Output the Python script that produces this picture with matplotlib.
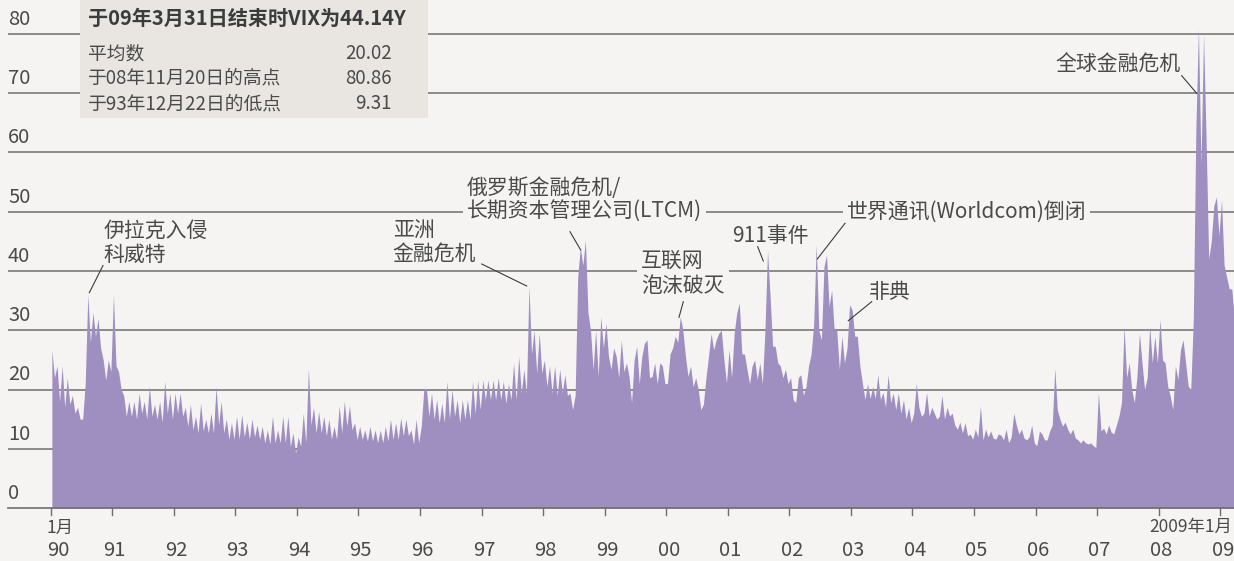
import matplotlib
matplotlib.use("Agg")
import matplotlib.pyplot as plt
from matplotlib.patches import Rectangle
import numpy as np

plt.rcParams['font.family'] = ['Noto Sans CJK SC', 'DejaVu Sans']

# VIX, two readings per month (in time order)
v1990 = [26.7, 22, 24, 18, 24, 17, 22, 17.5, 19, 16, 17, 15, 15, 21, 36, 28, 33, 29, 32, 27, 25, 21.6, 25, 23]
v1991 = [36, 24, 23, 20, 19, 15.5, 18, 15.5, 18, 15, 19.4, 16, 18, 15, 20.5, 15.5, 17.5, 15, 18, 14.5, 21.4, 16, 19.4, 15]
v1992 = [19.4, 16, 19.4, 15.5, 17, 13.8, 17.5, 13.2, 15.5, 12.7, 17.7, 13, 15, 12.7, 16, 12.7, 20.5, 14, 18, 12.7, 15, 11.6, 14.4, 11.6]
v1993 = [15.5, 11.6, 15.8, 12, 14.5, 11.6, 15, 12, 14, 11.6, 13.8, 11, 13.2, 10.8, 15.5, 11, 13.2, 11, 15.5, 11, 15.5, 10.4, 12.7, 9.3]
v1994 = [12, 10.4, 16, 11, 23.6, 14, 17, 12.7, 16.3, 12.7, 15.5, 12.2, 15, 11.6, 13.8, 11.6, 17.3, 12.7, 18, 13.8, 17.3, 13.2, 14.4, 11.6]
v1995 = [13.8, 11.6, 13.2, 11.3, 13.8, 11.3, 13.2, 11, 13.2, 11, 13.8, 11.3, 15, 11.6, 14.4, 11.6, 15.2, 12.2, 15, 12.2, 13.2, 10.8, 15, 11]
v1996 = [13.8, 20, 20.2, 15.5, 19.4, 15, 18.3, 14.4, 17.7, 14.4, 21.4, 15, 20, 15.5, 18.3, 14.4, 18.3, 15, 18.3, 15, 21.4, 16, 21.6, 16.6]
v1997 = [21.6, 18.3, 21.6, 18.3, 21.6, 18.3, 22, 18.3, 21.4, 17.7, 21, 18.3, 24.5, 18.3, 25.6, 19.4, 23.4, 19.4, 37.4, 26, 30, 22.8, 29.5, 22.8]
v1998 = [25, 20.5, 24, 19.4, 24, 19, 23.4, 19.5, 22.5, 19, 19.4, 16.6, 19, 39, 44, 41, 45.2, 33, 30, 23.4, 30, 22.2, 32.3, 27]
v1999 = [31.2, 25.6, 23.4, 27, 25.6, 22, 28.4, 23, 24.5, 22.2, 17.8, 25, 27.3, 21, 25.6, 27.8, 28.4, 22, 22.2, 24.5, 21, 24.5, 24, 21]
v2000 = [21, 26, 27, 29, 28, 32.3, 30, 25.6, 22.2, 24, 20.5, 22, 20, 16.6, 17.5, 22, 25.6, 29.5, 26.7, 28.4, 29.5, 30, 25, 21.1]
v2001 = [26.7, 22, 29.5, 32.9, 34.6, 26, 26, 23.4, 21, 24, 25, 21.7, 24.5, 21, 30, 43.5, 35.7, 27.3, 27.3, 24.5, 24, 22, 23.4, 21]
v2002 = [22, 18.3, 17.8, 22, 22.5, 19, 20.5, 24, 26, 31, 44.6, 30, 28.4, 40.7, 42.7, 34, 36.8, 30, 30, 23.4, 29, 24.5, 27, 34.3]
v2003 = [33.4, 29, 29, 24, 21, 18.3, 21, 18.5, 20.5, 18.5, 22.5, 18.3, 19.5, 17, 22.5, 17.8, 19.4, 16.6, 19.4, 16, 18.3, 15, 17, 14.4]
v2004 = [16, 21, 17, 15.5, 16, 19.5, 15.5, 17, 16, 15, 15.5, 19, 15, 17, 15.5, 16, 14, 13.3, 14.5, 12.7, 14.4, 12.2, 12.5, 11.6]
v2005 = [13.3, 12, 17.2, 11.5, 13.3, 12, 13, 11.8, 11.6, 12.5, 12.3, 11.5, 13.3, 11, 12, 16, 14, 12.5, 13.3, 11.8, 11.5, 12, 14, 11]
v2006 = [10.5, 13, 12.5, 11.5, 11.5, 13, 14, 23.6, 16.5, 15, 13.8, 14.5, 13.3, 12.5, 13.3, 11.8, 11.5, 11, 11.5, 11, 10.8, 11, 10.5, 10.2]
v2007 = [19.5, 13, 13.5, 12.5, 14, 12.8, 12.5, 14, 15.5, 17.8, 30.7, 22, 24.5, 20, 17.8, 22, 29.5, 24.5, 20, 22, 30.7, 24.5, 29, 24.5]
v2008 = [31.8, 25, 24.5, 20.6, 18.9, 16.6, 24, 21.7, 26.7, 28.4, 24.5, 20.6, 20, 31.8, 64, 80.9, 58, 80, 62, 42, 45, 51, 52.5, 46]
v2009 = [52, 41, 39, 37, 37, 32]

years = list(range(1990, 2010))
yearly = [v1990, v1991, v1992, v1993, v1994, v1995, v1996, v1997, v1998, v1999,
          v2000, v2001, v2002, v2003, v2004, v2005, v2006, v2007, v2008, v2009]
year_labels = ['90', '91', '92', '93', '94', '95', '96', '97', '98', '99',
               '00', '01', '02', '03', '04', '05', '06', '07', '08', '09']

box_title = '于09年3月31日结束时VIX为44.14Y'
box_rows = [('平均数', '20.02'), ('于08年11月20日的高点', '80.86'), ('于93年12月22日的低点', '9.31')]

BG = '#f5f4f2'
FILL = '#9f8fc0'
GRID = '#6e6e6e'
TXT = '#4a4a4a'

t, v = [], []
for yr, vals in zip(years, yearly):
    for i, val in enumerate(vals):
        t.append(yr + (i + 0.5) / 24)
        v.append(val)
t = np.array(t)
v = np.array(v)


# pixel -> data helpers for layout
def X(px):
    return 1990 + (px - 50.6) / 61.56


def Y(py):
    return (508 - py) / 5.925


W, H = 1234, 561
fig = plt.figure(figsize=(W / 100, H / 100), dpi=100, facecolor=BG)
ax = fig.add_axes([8 / W, 1 - 508 / H, 1 - 8 / W, 508 / H])
ax.set_facecolor(BG)
ax.set_xlim(X(8), X(1234))
ax.set_ylim(0, Y(0))
for s in ax.spines.values():
    s.set_visible(False)
ax.set_xticks([])
ax.set_yticks([])

# gridlines + y labels
for g in range(10, 90, 10):
    ax.axhline(g, color=GRID, lw=1.1, zorder=1)
for g in range(0, 90, 10):
    ax.text(X(8), g + 2.45, str(g), ha='left', va='center', fontsize=14.5, color=TXT, zorder=1)

ax.fill_between(t, 0, v, color=FILL, lw=0, zorder=2)

# x axis
ax.axhline(0, color=GRID, lw=1.2, zorder=3, clip_on=False)
for yr, lab in zip(years, year_labels):
    ax.plot([yr, yr], [0, Y(515)], color=GRID, lw=1, clip_on=False, zorder=3)
    if lab == '90':
        ax.text(X(47), Y(551), lab, ha='left', va='center', fontsize=14.5, color=TXT)
    else:
        ax.text(yr + 0.04, Y(551), lab, ha='center', va='center', fontsize=14.5, color=TXT)
ax.text(X(47), Y(528), '1月', ha='left', va='center', fontsize=12.5, color=TXT)
ax.text(X(1232), Y(527), '2009年1月', ha='right', va='center', fontsize=12.5, color=TXT)

# info box
ax.add_patch(Rectangle((X(80), Y(118.3)), X(427.7) - X(80), Y(0) - Y(118.3),
                       facecolor='#e9e6e1', edgecolor='none', zorder=4, clip_on=False))
ax.text(X(88.3), Y(18.7), box_title, ha='left', va='center', fontsize=14.5,
        fontweight='bold', color='#3c3c3c', zorder=5)
for (lab, num), py in zip(box_rows, [54, 78.3, 104]):
    ax.text(X(88.3), Y(py), lab, ha='left', va='center', fontsize=13.5, color=TXT, zorder=5)
    ax.text(X(391.7), Y(py), num, ha='right', va='center', fontsize=13.5, color=TXT, zorder=5)

# annotations
mask = dict(facecolor=BG, edgecolor='none', pad=3)
notes = [
    ('伊拉克入侵\n科威特', 103.3, 242.5, None),
    ('亚洲\n金融危机', 392.7, 241.5, None),
    ('俄罗斯金融危机/\n长期资本管理公司(LTCM)', 466.7, 200, mask),
    ('互联网\n泡沫破灭', 641, 273.5, mask),
    ('911事件', 732.3, 235.8, None),
    ('世界通讯(Worldcom)倒闭', 846.7, 211.7, mask),
    ('非典', 869.3, 292.3, None),
    ('全球金融危机', 1055.7, 65.2, None),
]
for txt, px, py, bb in notes:
    ax.text(X(px), Y(py), txt, ha='left', va='center', fontsize=15, color=TXT,
            linespacing=1.12, bbox=bb, zorder=3)

leaders = [
    ((103, 265.5), (89.3, 292.7)),
    ((481.7, 264), (526.7, 286)),
    ((570, 231.7), (580.7, 250)),
    ((683.3, 301.7), (679, 317.3)),
    ((757.7, 246.7), (763.3, 261)),
    ((845, 223.3), (817.3, 259)),
    ((871.7, 301.7), (848.3, 320.7)),
    ((1181.7, 75.7), (1196.7, 93.3)),
]
for (x0, y0), (x1, y1) in leaders:
    ax.plot([X(x0), X(x1)], [Y(y0), Y(y1)], color='#3c3c3c', lw=0.8, zorder=3)

fig.savefig('out.png', dpi=100, facecolor=BG)
